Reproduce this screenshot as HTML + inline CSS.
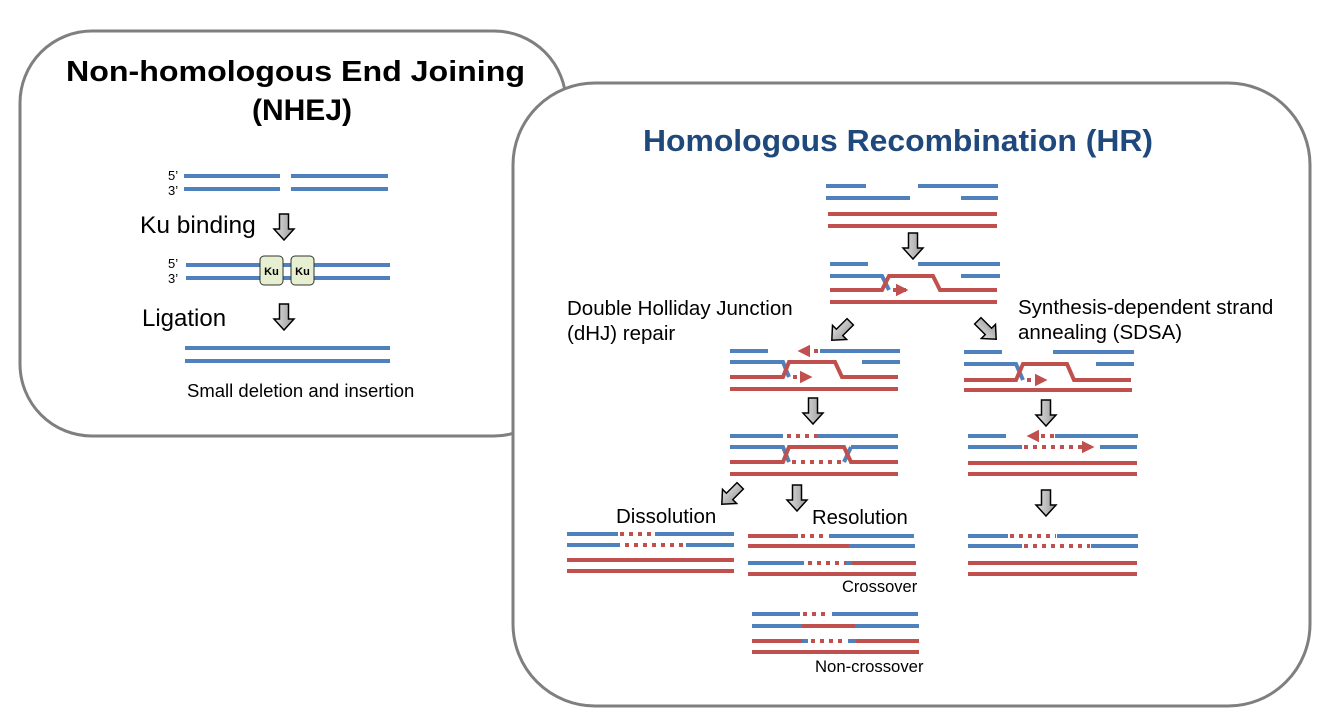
<!DOCTYPE html>
<html><head><meta charset="utf-8"><style>
html,body{margin:0;padding:0;background:#fff;width:1334px;height:725px;overflow:hidden}
svg{display:block}
text{font-family:"Liberation Sans",Arial,sans-serif;fill:#000}
.b{stroke:#4f81bd;stroke-width:4;fill:none}
.r{stroke:#c0504d;stroke-width:4;fill:none}
.d{stroke:#c0504d;stroke-width:4;fill:none;stroke-dasharray:4 5}
</style></head><body>
<svg width="1334" height="725" viewBox="0 0 1334 725">
<defs>
<linearGradient id="g" x1="0" x2="1"><stop offset="0" stop-color="#e0e0e0"/><stop offset="1" stop-color="#9a9a9a"/></linearGradient>
<g id="ar"><path d="M-4.5,-13 H4.5 V2 H10 L0,13 L-10,2 H-4.5 Z" fill="url(#g)" stroke="#000" stroke-width="1.5"/></g>
<marker id="ah" viewBox="0 0 10 10" refX="8" refY="5" markerWidth="3.2" markerHeight="3.2" orient="auto-start-reverse"><path d="M0,0 L10,5 L0,10 Z" fill="#c0504d"/></marker>
</defs>
<!-- NHEJ box -->
<rect x="20" y="31" width="546" height="405" rx="72" fill="#fff" stroke="#7f7f7f" stroke-width="3"/>
<text x="66" y="81" font-size="29" font-weight="bold" textLength="459" lengthAdjust="spacingAndGlyphs">Non-homologous  End Joining</text>
<text x="302" y="120" font-size="30" font-weight="bold" text-anchor="middle">(NHEJ)</text>
<text x="168" y="180" font-size="13">5’</text><text x="168" y="195" font-size="13">3’</text>
<path class="b" d="M184,176H280M291,176H388M184,189H280M291,189H388"/>
<text x="140" y="233" font-size="24.5">Ku binding</text>
<use href="#ar" x="284" y="227"/>
<text x="168" y="268" font-size="13">5’</text><text x="168" y="283" font-size="13">3’</text>
<path class="b" d="M186,265H390M186,278H390"/>
<rect x="260" y="256" width="23" height="29" rx="4" fill="#e6efcf" stroke="#333" stroke-width="1"/>
<rect x="291" y="256" width="23" height="29" rx="4" fill="#e6efcf" stroke="#333" stroke-width="1"/>
<text x="271.5" y="275" font-size="11" font-weight="bold" text-anchor="middle">Ku</text>
<text x="302.5" y="275" font-size="11" font-weight="bold" text-anchor="middle">Ku</text>
<text x="142" y="326" font-size="24">Ligation</text>
<use href="#ar" x="284" y="317"/>
<path class="b" d="M185,348H390M185,361H390"/>
<text x="187" y="397" font-size="18.5">Small deletion and insertion</text>
<!-- HR box -->
<rect x="513" y="83" width="797" height="623" rx="82" fill="#fff" stroke="#7f7f7f" stroke-width="3"/>
<text x="643" y="151" font-size="31" font-weight="bold" textLength="510" lengthAdjust="spacingAndGlyphs" style="fill:#1f497d">Homologous Recombination (HR)</text>
<!-- top -->
<path class="b" d="M826,186H866M918,186H998M826,198H910M961,198H998"/>
<path class="r" d="M828,214H997M828,226H997"/>
<use href="#ar" x="913" y="246"/>
<path class="b" d="M830,264H868M918,264H1000M961,276H1000M830,276H882L889,290"/>
<path class="r" d="M830,290H882L889,276H933L940,290H997M830,302H997"/>
<path class="d" d="M893,290H906" marker-end="url(#ah)"/>
<text x="567" y="315" font-size="20.5">Double Holliday Junction</text>
<text x="567" y="340" font-size="20.5">(dHJ) repair</text>
<text x="1018" y="314" font-size="20.5">Synthesis-dependent strand</text>
<text x="1018" y="339" font-size="20.5">annealing (SDSA)</text>
<use href="#ar" transform="translate(841,331) rotate(45)"/>
<use href="#ar" transform="translate(987,330) rotate(-45)"/>
<!-- dHJ 1 -->
<path class="b" d="M730,351H768M820,351H900M862,362H900M730,362H783L789,377"/>
<path class="d" d="M818,351H800" marker-end="url(#ah)"/>
<path class="r" d="M730,377H783L789,362H835L842,377H898M730,389H898"/>
<path class="d" d="M793,377H810" marker-end="url(#ah)"/>
<use href="#ar" x="813" y="411"/>
<!-- dHJ 2 -->
<path class="b" d="M730,436H783M817,436H898M730,447H783L789,462M851,447H898M851,447L844,462"/>
<path class="d" d="M787,436H817M792,462H842"/>
<path class="r" d="M730,462H783L789,447H844L851,462H898M730,474H898"/>
<use href="#ar" transform="translate(731,495) rotate(45)"/>
<use href="#ar" x="797" y="498"/>
<text x="616" y="523" font-size="20.5">Dissolution</text>
<text x="812" y="524" font-size="20.3">Resolution</text>
<!-- dissolution -->
<path class="b" d="M567,534H618M655,534H734M567,545H620M686,545H734"/>
<path class="d" d="M620,534H652M625,545H684"/>
<path class="r" d="M567,560H734M567,571H734"/>
<!-- crossover -->
<path class="r" d="M748,536H798M748,546H849M852,563H916M748,574H916"/>
<path class="d" d="M801,536H828M808,563H846"/>
<path class="b" d="M829,536H914M849,546H915M748,563H804M846,563H852"/>
<text x="842" y="592" font-size="16.5">Crossover</text>
<!-- non-crossover -->
<path class="b" d="M752,614H800M832,614H918M752,626H802M855,626H919M802,641H808M848,641H856"/>
<path class="d" d="M803,614H830M811,641H846"/>
<path class="r" d="M802,626H855M752,641H802M856,641H919M752,652H919"/>
<text x="815" y="672" font-size="16.7">Non-crossover</text>
<!-- SDSA 1 -->
<path class="b" d="M964,352H1002M1053,352H1134M1096,364H1134M964,364H1016L1023,380"/>
<path class="r" d="M964,380H1016L1023,364H1067L1074,380H1131M964,390H1132"/>
<path class="d" d="M1027,380H1045" marker-end="url(#ah)"/>
<use href="#ar" x="1046" y="413"/>
<!-- SDSA 2 -->
<path class="b" d="M968,436H1006M1055,436H1138M968,447H1022M1100,447H1137"/>
<path class="d" d="M1054,436H1029" marker-end="url(#ah)"/>
<path class="d" d="M1024,447H1092" marker-end="url(#ah)"/>
<path class="r" d="M968,463H1137M968,474H1137"/>
<use href="#ar" x="1046" y="503"/>
<!-- SDSA 3 -->
<path class="b" d="M968,536H1008M1057,536H1138M968,546H1022M1091,546H1138"/>
<path class="d" d="M1010,536H1056M1024,546H1090"/>
<path class="r" d="M968,563H1137M968,574H1137"/>
</svg>
</body></html>
